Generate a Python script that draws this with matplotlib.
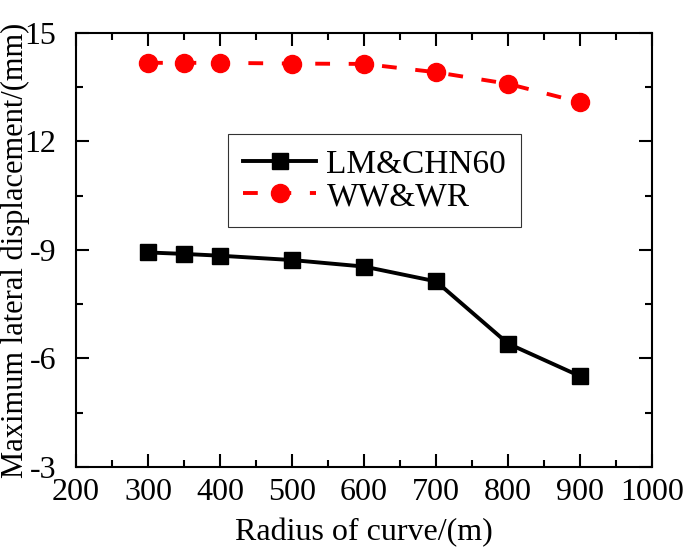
import numpy as np
import matplotlib.pyplot as plt
from matplotlib.ticker import FixedLocator, FixedFormatter, MultipleLocator

plt.rcParams["font.family"] = "Liberation Serif"
plt.rcParams["mathtext.fontset"] = "stix"

# Data
radius = [300, 350, 400, 500, 600, 700, 800, 900]
lm_chn60 = [8.93, 8.89, 8.84, 8.72, 8.54, 8.13, 6.41, 5.51]
ww_wr = [14.17, 14.17, 14.17, 14.15, 14.14, 13.91, 13.59, 13.08]

y_ticks = [3, 6, 9, 12, 15]
y_tick_labels = ["-3", "-6", "-9", "12", "15"]

fig = plt.figure(figsize=(6.85, 5.56), dpi=100)
ax = fig.add_axes([0.111, 0.16, 0.841, 0.781])

ax.plot(radius, lm_chn60, color="black", linewidth=2.8, marker="s",
        markersize=11.5, label="LM&CHN60")
ax.plot(radius, ww_wr, color="red", linewidth=2.8, marker="o",
        markersize=13, dashes=(3.8, 4.8), label="WW&WR")

ax.set_xlim(200, 1000)
ax.set_ylim(3, 15)
ax.xaxis.set_major_locator(MultipleLocator(100))
ax.xaxis.set_minor_locator(MultipleLocator(50))
ax.yaxis.set_major_locator(FixedLocator(y_ticks))
ax.yaxis.set_major_formatter(FixedFormatter(y_tick_labels))
ax.yaxis.set_minor_locator(MultipleLocator(1.5))

ax.tick_params(which="both", direction="in", top=True, right=True,
               width=1.5, labelsize=23)
ax.tick_params(which="major", length=9.5)
ax.tick_params(which="minor", length=5)
ax.tick_params(axis="x", pad=8)
ax.tick_params(axis="y", pad=14)
for s in ax.spines.values():
    s.set_linewidth(1.5)

ax.set_xlabel("Radius of curve/(m)", fontsize=23, labelpad=8)
ax.set_ylabel("Maximum lateral displacement/(mm)", fontsize=22)
ax.yaxis.set_label_coords(-0.080, 0.5)

leg = ax.legend(loc="upper left", bbox_to_anchor=(0.264, 0.766),
                fontsize=24, frameon=True, fancybox=False, edgecolor="black",
                handlelength=2.2, handletextpad=0.3, borderpad=0.45,
                labelspacing=0.05, borderaxespad=0)
leg.get_frame().set_linewidth(0.8)

plt.savefig("out.png", dpi=100)
